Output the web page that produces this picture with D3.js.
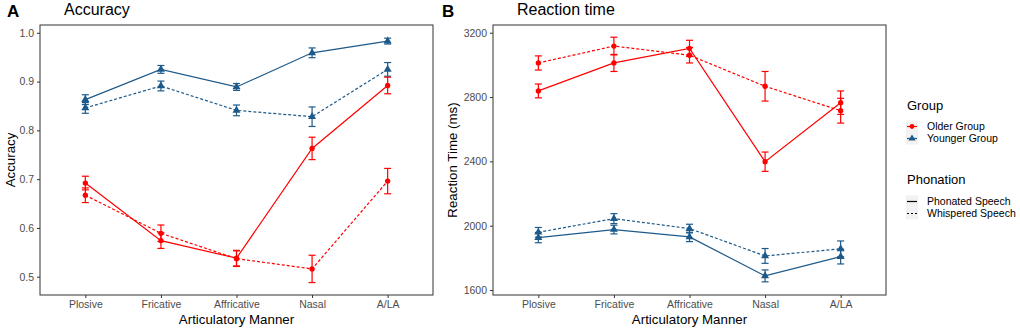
<!DOCTYPE html>
<html>
<head>
<meta charset="utf-8">
<script src="https://cdn.jsdelivr.net/npm/d3@7"></script>
<style>
  body { margin: 0; background: #fff; }
  svg { font-family: "Liberation Sans", Arial, sans-serif; display: block; }
</style>
</head>
<body>
<svg width="1020" height="330"></svg>
<script>
// categories
var manners = ["Plosive", "Fricative", "Affricative", "Nasal", "A/LA"];

// accuracy: means and error half-widths
var accOlderPhon = [0.692, 0.574, 0.538, 0.763, 0.892];
var accOlderPhonErr = [0.014, 0.016, 0.016, 0.023, 0.017];
var accOlderWhis = [0.667, 0.589, 0.537, 0.516, 0.696];
var accOlderWhisErr = [0.015, 0.017, 0.016, 0.028, 0.026];
var accYoungPhon = [0.863, 0.925, 0.889, 0.959, 0.983];
var accYoungPhonErr = [0.010, 0.008, 0.007, 0.010, 0.006];
var accYoungWhis = [0.846, 0.891, 0.841, 0.828, 0.925];
var accYoungWhisErr = [0.011, 0.010, 0.011, 0.020, 0.014];

// reaction time (ms)
var rtOlderPhon = [2838, 3012, 3103, 2398, 2765];
var rtOlderPhonErr = [43, 53, 50, 60, 73];
var rtOlderWhis = [3012, 3117, 3060, 2867, 2715];
var rtOlderWhisErr = [44, 55, 48, 92, 77];
var rtYoungPhon = [1926, 1976, 1930, 1688, 1808];
var rtYoungPhonErr = [32, 27, 29, 37, 46];
var rtYoungWhis = [1959, 2044, 1982, 1812, 1856];
var rtYoungWhisErr = [30, 31, 27, 46, 49];

var accTicks = [0.5, 0.6, 0.7, 0.8, 0.9, 1.0];
var rtTicks = [1600, 2000, 2400, 2800, 3200];

var red = "#ff0000", blue = "#1d5a8a";
var svg = d3.select("svg");

function series(vals, errs, color, dashed, shape) {
  return { vals: vals, errs: errs, color: color, dashed: dashed, shape: shape };
}

function panel(opt) {
  var x = d3.scalePoint().domain(manners).range([opt.left, opt.right]).padding(0.6);
  var y = d3.scaleLinear().domain(opt.ydom).range([opt.bottom, opt.top]);
  var g = svg.append("g");

  // axes
  g.append("g").attr("transform", "translate(0," + opt.bottom + ")")
    .call(d3.axisBottom(x).tickSize(3).tickPadding(3))
    .call(function(a) {
      a.select(".domain").remove();
      a.selectAll("line").attr("stroke", "#333");
      a.selectAll("text").attr("fill", "#4d4d4d").attr("font-size", "10.5px").attr("font-family", null);
    });
  g.append("g").attr("transform", "translate(" + opt.left + ",0)")
    .call(d3.axisLeft(y).tickValues(opt.ticks).tickFormat(opt.fmt).tickSize(3).tickPadding(3))
    .call(function(a) {
      a.select(".domain").remove();
      a.selectAll("line").attr("stroke", "#333");
      a.selectAll("text").attr("fill", "#4d4d4d").attr("font-size", "10.5px").attr("font-family", null);
    });

  var line = d3.line().x(function(d, i) { return x(manners[i]); }).y(function(d) { return y(d); });

  opt.series.forEach(function(s) {
    var sg = g.append("g");
    sg.append("path").datum(s.vals)
      .attr("d", line).attr("fill", "none")
      .attr("stroke", s.color).attr("stroke-width", 1.2)
      .attr("stroke-dasharray", s.dashed ? "3,2" : null);
    // error bars
    var eb = sg.selectAll("g.eb").data(s.vals).enter().append("g")
      .attr("stroke", s.color).attr("stroke-width", 1.2);
    eb.append("line")
      .attr("x1", function(d, i) { return x(manners[i]); })
      .attr("x2", function(d, i) { return x(manners[i]); })
      .attr("y1", function(d, i) { return y(d - s.errs[i]); })
      .attr("y2", function(d, i) { return y(d + s.errs[i]); });
    [-1, 1].forEach(function(k) {
      eb.append("line")
        .attr("x1", function(d, i) { return x(manners[i]) - 3.5; })
        .attr("x2", function(d, i) { return x(manners[i]) + 3.5; })
        .attr("y1", function(d, i) { return y(d + k * s.errs[i]); })
        .attr("y2", function(d, i) { return y(d + k * s.errs[i]); });
    });
    // points
    sg.selectAll("path.pt").data(s.vals).enter().append("path")
      .attr("class", "pt")
      .attr("d", d3.symbol().type(s.shape).size(s.shape === d3.symbolCircle ? 22 : 28))
      .attr("transform", function(d, i) { return "translate(" + x(manners[i]) + "," + y(d) + ")"; })
      .attr("fill", s.color);
  });

  // border
  g.append("rect").attr("x", opt.left).attr("y", opt.top)
    .attr("width", opt.right - opt.left).attr("height", opt.bottom - opt.top)
    .attr("fill", "none").attr("stroke", "#333").attr("stroke-width", 1);

  // titles
  svg.append("text").attr("x", opt.tagX).attr("y", 17).attr("font-weight", "bold")
    .attr("font-size", "17px").text(opt.tag);
  svg.append("text").attr("x", opt.titleX).attr("y", 15).attr("font-size", "16px").text(opt.title);
  svg.append("text").attr("x", (opt.left + opt.right) / 2).attr("y", 324)
    .attr("text-anchor", "middle").attr("font-size", "13.3px").text("Articulatory Manner");
  svg.append("text")
    .attr("transform", "translate(" + opt.ylabX + "," + (opt.top + opt.bottom) / 2 + ")rotate(-90)")
    .attr("text-anchor", "middle").attr("font-size", "13.3px").text(opt.ylab);
}

panel({
  left: 40, right: 433, top: 25, bottom: 295,
  ydom: [0.4625, 1.016], ticks: accTicks, fmt: d3.format(".1f"),
  tag: "A", tagX: 7, title: "Accuracy", titleX: 64,
  ylab: "Accuracy", ylabX: 14.5,
  series: [
    series(accYoungPhon, accYoungPhonErr, blue, false, d3.symbolTriangle),
    series(accYoungWhis, accYoungWhisErr, blue, true, d3.symbolTriangle),
    series(accOlderPhon, accOlderPhonErr, red, false, d3.symbolCircle),
    series(accOlderWhis, accOlderWhisErr, red, true, d3.symbolCircle)
  ]
});

panel({
  left: 493, right: 886, top: 25, bottom: 295,
  ydom: [1569, 3248], ticks: rtTicks, fmt: d3.format("d"),
  tag: "B", tagX: 442, title: "Reaction time", titleX: 517,
  ylab: "Reaction Time (ms)", ylabX: 457,
  series: [
    series(rtYoungPhon, rtYoungPhonErr, blue, false, d3.symbolTriangle),
    series(rtYoungWhis, rtYoungWhisErr, blue, true, d3.symbolTriangle),
    series(rtOlderPhon, rtOlderPhonErr, red, false, d3.symbolCircle),
    series(rtOlderWhis, rtOlderWhisErr, red, true, d3.symbolCircle)
  ]
});

// legend
var lg = svg.append("g");
lg.append("text").attr("x", 907).attr("y", 110).attr("font-size", "13px").text("Group");
var groupKeys = [
  { label: "Older Group", color: red, shape: d3.symbolCircle },
  { label: "Younger Group", color: blue, shape: d3.symbolTriangle }
];
groupKeys.forEach(function(k, i) {
  var cy = 126.5 + i * 12;
  lg.append("rect").attr("x", 906).attr("y", cy - 6).attr("width", 12).attr("height", 12).attr("fill", "#f2f2f2");
  lg.append("line").attr("x1", 907).attr("x2", 917).attr("y1", cy).attr("y2", cy)
    .attr("stroke", k.color).attr("stroke-width", 1.2);
  lg.append("path").attr("d", d3.symbol().type(k.shape).size(k.shape === d3.symbolCircle ? 18 : 22))
    .attr("transform", "translate(912," + cy + ")").attr("fill", k.color);
  lg.append("text").attr("x", 927).attr("y", cy).attr("dy", "0.35em").attr("font-size", "10.5px").text(k.label);
});
lg.append("text").attr("x", 907).attr("y", 184).attr("font-size", "13px").text("Phonation");
var phonKeys = [
  { label: "Phonated Speech", dashed: false },
  { label: "Whispered Speech", dashed: true }
];
phonKeys.forEach(function(k, i) {
  var cy = 201.5 + i * 12;
  lg.append("rect").attr("x", 906).attr("y", cy - 6).attr("width", 12).attr("height", 12).attr("fill", "#f2f2f2");
  lg.append("line").attr("x1", 907).attr("x2", 917).attr("y1", cy).attr("y2", cy)
    .attr("stroke", "#000").attr("stroke-width", 1.2)
    .attr("stroke-dasharray", k.dashed ? "2,2" : null);
  lg.append("text").attr("x", 927).attr("y", cy).attr("dy", "0.35em").attr("font-size", "10.5px").text(k.label);
});
</script>
</body>
</html>
